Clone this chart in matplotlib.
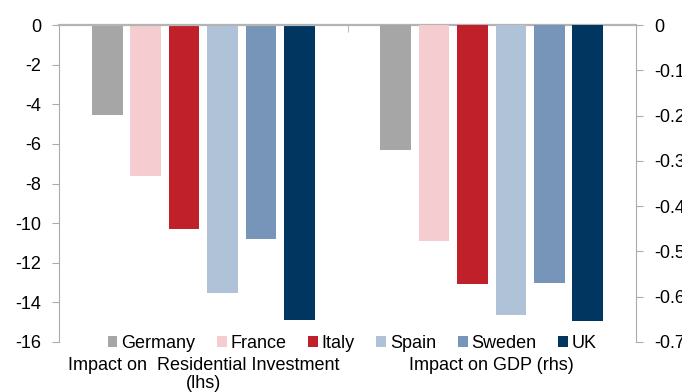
import matplotlib
matplotlib.use("Agg")
import matplotlib.pyplot as plt
import matplotlib.transforms as mtransforms
import numpy as np

plt.rcParams['font.family'] = ['Liberation Sans', 'DejaVu Sans']

# impact by country: residential investment (lhs) and GDP (rhs)
countries = ['Germany', 'France', 'Italy', 'Spain', 'Sweden', 'UK']
resid_invest = [-4.55, -7.6, -10.3, -13.55, -10.8, -14.9]
gdp = [-0.276, -0.476, -0.572, -0.64, -0.57, -0.654]
group_labels = ['Impact on  Residential Investment\n(lhs)', 'Impact on GDP (rhs)']
colors = ['#a6a6a6', '#f5cdd0', '#c0202a', '#b0c2d8', '#7695b8', '#003660']

grey = '#ababab'
fs = 13
fig = plt.figure(figsize=(6.82, 3.92), dpi=100)
ax = fig.add_axes([59 / 682, 1 - 342 / 392, (636 - 59) / 682, (342 - 25) / 392])
ax2 = ax.twinx()

pitch = 0.1333
width = 0.107
handles = []
for i, (c, col) in enumerate(zip(countries, colors)):
    off = (i - 2.5) * pitch
    h = ax.bar(0 + off, resid_invest[i], width, color=col, label=c, zorder=2)
    ax2.bar(1 + off, gdp[i], width, color=col, zorder=2)
    handles.append(h)

ax.set_xlim(-0.5, 1.5)
ax.set_ylim(-16, 0)
ax2.set_ylim(-0.7, 0)
ax.set_yticks(np.arange(-16, 1, 2))
ax.set_yticklabels([f'{v:g}' for v in np.arange(-16, 1, 2)])
rticks = np.round(np.arange(-0.7, 0.01, 0.1), 1)
ax2.set_yticks(rticks)
ax2.set_yticklabels([f'{v:g}' if v != 0 else '0' for v in rticks])

for a in (ax, ax2):
    for s in a.spines.values():
        s.set_visible(False)
ax.spines['left'].set_visible(True)
ax.spines['left'].set_color(grey)
ax.spines['top'].set_visible(True)
ax.spines['top'].set_color('#b4b4b4')
ax.spines['top'].set_linewidth(1.6)
ax2.spines['right'].set_visible(True)
ax2.spines['right'].set_color(grey)

ax.tick_params(axis='y', length=5, color=grey, pad=8, labelsize=fs)
ax2.tick_params(axis='y', length=5, color=grey, pad=8, labelsize=fs)
ax.set_xticks([])
ax.set_xticks([0.5], minor=True)
ax.tick_params(axis='x', which='minor', top=True, bottom=False, direction='in',
               length=5, color=grey, labelbottom=False)

# category labels under the groups
trans = mtransforms.blended_transform_factory(ax.transData, fig.transFigure)
ax.text(0, 1 - 357 / 392, group_labels[0], transform=trans, ha='center', va='top',
        fontsize=fs, linespacing=1.05)
ax.text(1, 1 - 357 / 392, group_labels[1], transform=trans, ha='center', va='top',
        fontsize=fs)

fig.legend(handles=handles, labels=countries, loc='center',
           bbox_to_anchor=(352 / 682, 1 - 343 / 392), ncol=6, frameon=False,
           handlelength=0.55, handleheight=0.55, handletextpad=0.2,
           columnspacing=1.2, fontsize=fs, borderpad=0)

fig.savefig('out.png', dpi=100)
